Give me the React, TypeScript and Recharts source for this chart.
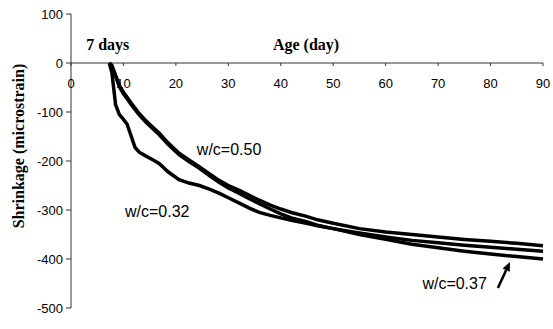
import React from 'react';
import { LineChart, Line, XAxis, YAxis, ReferenceLine, ReferenceDot } from 'recharts';

const DAYS = [7.3, 7.8, 8.5, 9.2, 10, 10.7, 11.5, 12.2, 13, 14.3, 15.5, 16.8, 18.5, 20.6, 22.5, 24.5, 26.5, 28.3, 30, 32.1, 34, 35.9, 38, 40, 42, 44.9, 47, 50, 55, 60, 65, 70, 75, 80, 85, 90];
const WC050 = [0, -5, -25, -45, -60, -70, -82, -92, -103, -118, -130, -143, -163, -184, -198, -212, -227, -240, -250, -260, -270, -280, -290, -298, -305, -313, -320, -327, -338, -345, -350, -355, -360, -364, -368, -373];
const WC037 = [0, -6, -27, -48, -63, -73, -85, -95, -106, -121, -133, -146, -166, -187, -201, -215, -231, -244, -255, -266, -277, -287, -298, -308, -316, -324, -331, -338, -350, -360, -370, -377, -384, -390, -395, -400];
const WC032 = [0, -20, -85, -105, -115, -125, -150, -172, -182, -190, -197, -205, -222, -238, -245, -250, -258, -266, -275, -286, -296, -305, -311, -316, -321, -327, -332, -338, -347, -355, -362, -367, -372, -376, -380, -384];

const X_TICKS = [0, 10, 20, 30, 40, 50, 60, 70, 80, 90];
const Y_TICKS = [100, 0, -100, -200, -300, -400, -500];
const Y_MIN = -500;
const Y_MAX = 100;

const SERIES = [
  { name: 'w/c=0.50', values: WC050 },
  { name: 'w/c=0.37', values: WC037 },
  { name: 'w/c=0.32', values: WC032 },
];

const ANNOTATIONS = [
  { text: '7 days', day: 2.9, value: 26.5, serif: true },
  { text: 'Age (day)', day: 38.5, value: 26.5, serif: true },
  { text: 'w/c=0.50', day: 24.0, value: -188, serif: false },
  { text: 'w/c=0.32', day: 10.3, value: -314, serif: false },
  { text: 'w/c=0.37', day: 67.0, value: -461, serif: false },
];

const ARROW_FROM = { day: 81.4, value: -459 };
const ARROW_TO = { day: 83.7, value: -406 };

const W = 553;
const H = 329;
const X_AXIS_H = 21;
const M = { top: 14, right: 10, bottom: 0, left: 0 };
const Y_AXIS_W = 71;
const PLOT_TOP = M.top;
const PLOT_BOTTOM = H - M.bottom - X_AXIS_H;
const ZERO_Y = PLOT_TOP + ((Y_MAX - 0) / (Y_MAX - Y_MIN)) * (PLOT_BOTTOM - PLOT_TOP);

const SANS = '"Liberation Sans", Arial, sans-serif';
const SERIF = '"Liberation Serif", "Times New Roman", serif';

const XTick = (props: any) => {
  const { x, payload } = props;
  return (
    <g>
      <line x1={x} y1={ZERO_Y} x2={x} y2={ZERO_Y + 3} stroke="#333" strokeWidth={1} />
      <text x={x} y={ZERO_Y + 25} textAnchor="middle" fontSize={13} fontFamily={SANS} fill="#000">
        {payload.value}
      </text>
    </g>
  );
};

const Arrow = (props: any) => {
  const { x1, y1, x2, y2 } = props;
  const dx = x2 - x1;
  const dy = y2 - y1;
  const len = Math.sqrt(dx * dx + dy * dy) || 1;
  const ux = dx / len;
  const uy = dy / len;
  const hl = 9;
  const hw = 4;
  const bx = x2 - ux * hl;
  const by = y2 - uy * hl;
  const pts = `${x2},${y2} ${bx - uy * hw},${by + ux * hw} ${bx + uy * hw},${by - ux * hw}`;
  return (
    <g>
      <line x1={x1} y1={y1} x2={bx} y2={by} stroke="#000" strokeWidth={2.5} />
      <polygon points={pts} fill="#000" />
    </g>
  );
};

const YLabel = () => (
  <text
    x={24}
    y={146}
    transform="rotate(-90, 24, 146)"
    textAnchor="middle"
    fontSize={16}
    fontWeight="bold"
    fontFamily={SERIF}
    fill="#000"
  >
    Shrinkage (microstrain)
  </text>
);

export default function App() {
  return (
    <div style={{ position: 'absolute', left: 0, top: 0, background: '#fff' }}>
      <LineChart width={W} height={H} margin={M}>
        <XAxis
          dataKey="day"
          type="number"
          domain={[0, 90]}
          ticks={X_TICKS}
          height={X_AXIS_H}
          axisLine={false}
          tickLine={false}
          tick={(p: any) => <XTick {...p} />}
          interval={0}
        />
        <YAxis
          type="number"
          domain={[Y_MIN, Y_MAX]}
          ticks={Y_TICKS}
          width={Y_AXIS_W}
          tickSize={5}
          tickMargin={3}
          interval={0}
          axisLine={{ stroke: '#333' }}
          tickLine={{ stroke: '#333' }}
          tick={{ fill: '#000', fontSize: 13, fontFamily: SANS }}
          label={{ content: <YLabel /> }}
        />
        <ReferenceLine y={0} stroke="#333" strokeWidth={1} />
        {SERIES.map((s) => (
          <Line
            key={s.name}
            name={s.name}
            data={DAYS.map((d, i) => ({ day: d, v: s.values[i] }))}
            dataKey="v"
            stroke="#000"
            strokeWidth={3.5}
            dot={false}
            activeDot={false}
            type="linear"
            isAnimationActive={false}
          />
        ))}
        {ANNOTATIONS.map((a) => (
          <ReferenceDot
            key={a.text}
            x={a.day}
            y={a.value}
            r={0}
            shape={(p: any) => (
              <text
                x={p.cx}
                y={p.cy}
                textAnchor="start"
                fontSize={16}
                fontWeight={a.serif ? 'bold' : 'normal'}
                fontFamily={a.serif ? SERIF : SANS}
                fill="#000"
              >
                {a.text}
              </text>
            )}
          />
        ))}
        <ReferenceLine
          segment={[
            { x: ARROW_FROM.day, y: ARROW_FROM.value },
            { x: ARROW_TO.day, y: ARROW_TO.value },
          ]}
          shape={<Arrow />}
        />
      </LineChart>
    </div>
  );
}
